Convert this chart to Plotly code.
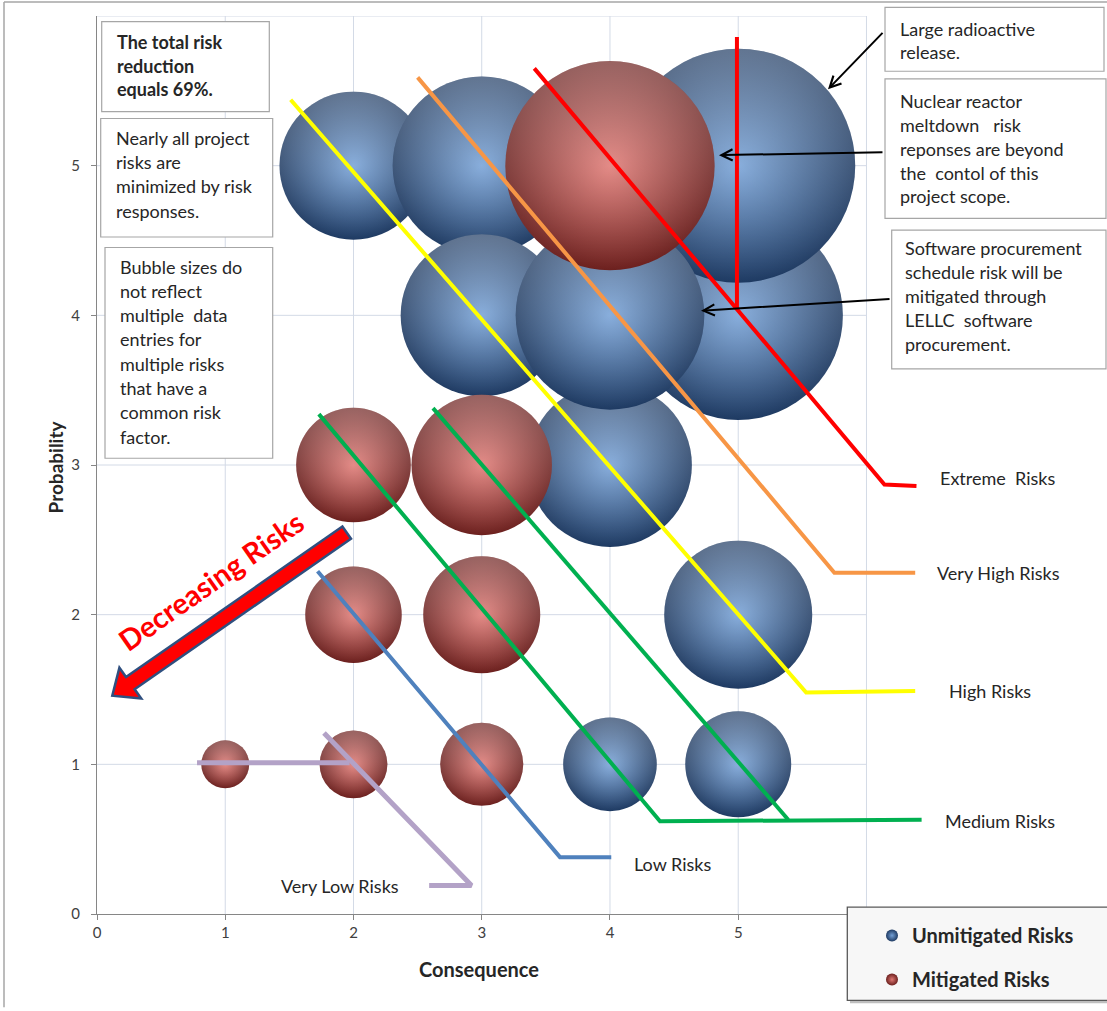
import math
import plotly.graph_objects as go

# ---------------------------------------------------------------------------
# Page geometry (pixels) and helpers to place decorations in paper units
# ---------------------------------------------------------------------------
W, H = 1107, 1011
ML, MR, MT, MB = 97, 170, 16, 90
PW, PH = W - ML - MR, H - MT - MB


def px(x):
    return (x - ML) / PW


def py(y):
    return (H - MB - y) / PH


FONT = "Lato, 'Open Sans', sans-serif"
TEXT = "#262626"

# ---------------------------------------------------------------------------
# Data: risk bubbles (consequence, probability, bubble value)
# ---------------------------------------------------------------------------
unmit_consequence = [5, 5, 2, 3, 3, 4, 4, 5, 4, 5]
unmit_probability = [4, 5, 5, 5, 4, 3, 4, 2, 1, 1]
unmit_bubble = [80, 100, 40, 58, 48, 49, 65, 40, 16, 20.5]

mit_consequence = [4, 2, 3, 2, 3, 1, 2, 3]
mit_probability = [5, 3, 3, 2, 2, 1, 1, 1]
mit_bubble = [80, 24, 36, 17, 25, 4.2, 8.4, 12.6]

# Risk zone boundary lines (None splits separate strokes)
extreme_x = [3.41, 6.14, 6.39, None, 4.99, 4.99]
extreme_y = [5.65, 2.87, 2.86, None, 5.86, 4.04]
very_high_x = [2.50, 5.75, 6.38]
very_high_y = [5.59, 2.28, 2.28]
high_x = [1.51, 5.53, 6.38]
high_y = [5.44, 1.48, 1.49]
medium_x = [1.73, 4.39, 6.43, None, 2.62, 5.39]
medium_y = [3.34, 0.62, 0.63, None, 3.38, 0.63]
low_x = [1.72, 3.61, 4.01]
low_y = [2.29, 0.38, 0.38]
very_low_x = [0.78, 1.97, None, 1.77, 2.92, 2.59]
very_low_y = [1.01, 1.01, None, 1.21, 0.19, 0.19]

zone_labels = ["Extreme  Risks", "Very High Risks", "High Risks",
               "Medium Risks", "Low Risks", "Very Low Risks"]

x_ticks = [0, 1, 2, 3, 4, 5]
y_ticks = [0, 1, 2, 3, 4, 5]
grid_vals = [1, 2, 3, 4, 5, 6]

fig = go.Figure()

MAX_DIAMETER = 234
SIZEREF = 2.0 * max(unmit_bubble + mit_bubble) / MAX_DIAMETER ** 2


def add_bubbles(xs, ys, vals, edge, centre, name, group):
    for i, (x, y, v) in enumerate(zip(xs, ys, vals)):
        # sphere body: light centre fading to a dark rim
        fig.add_trace(go.Scatter(
            x=[x], y=[y], mode="markers", name=name, legendgroup=group,
            showlegend=(i == 0), hoverinfo="skip",
            marker=dict(size=[v], sizemode="area", sizeref=SIZEREF, opacity=1,
                        color=edge, line=dict(width=0),
                        gradient=dict(type="radial", color=centre))))
        # soft top light
        fig.add_trace(go.Scatter(
            x=[x], y=[y], mode="markers", showlegend=False, hoverinfo="skip",
            legendgroup=group,
            marker=dict(size=[v], sizemode="area", sizeref=SIZEREF, opacity=1,
                        color="rgba(255,255,255,0.30)", line=dict(width=0),
                        gradient=dict(type="vertical", color="rgba(255,255,255,0)"))))


add_bubbles(unmit_consequence, unmit_probability, unmit_bubble,
            "#1e3a62", "#74a0d6", "Unmitigated Risks", "unmit")
add_bubbles(mit_consequence, mit_probability, mit_bubble,
            "#6c201e", "#df7772", "Mitigated Risks", "mit")

zones = [
    (extreme_x, extreme_y, "#ff0000", 4),
    (very_high_x, very_high_y, "#f79646", 4),
    (high_x, high_y, "#ffff00", 4),
    (medium_x, medium_y, "#00b050", 4),
    (low_x, low_y, "#4f81bd", 4),
    (very_low_x, very_low_y, "#b3a2c7", 5),
]
for zx, zy, col, wd in zones:
    fig.add_trace(go.Scatter(x=zx, y=zy, mode="lines", showlegend=False,
                             hoverinfo="skip", connectgaps=False,
                             line=dict(color=col, width=wd)))

shapes = []
annotations = []

# gridlines limited to the 0..6 plotting grid
GRID = "#d3dae6"
for g in grid_vals:
    shapes.append(dict(type="line", xref="x", yref="y", x0=g, x1=g, y0=0, y1=6,
                       line=dict(color=GRID, width=1), layer="below"))
    shapes.append(dict(type="line", xref="x", yref="y", x0=0, x1=6, y0=g, y1=g,
                       line=dict(color=GRID, width=1), layer="below"))

# outer chart frame (top and left edges visible)
shapes.append(dict(type="line", xref="paper", yref="paper", x0=px(4), x1=px(1110),
                   y0=py(2), y1=py(2), line=dict(color="#a6a6a6", width=1.5)))
shapes.append(dict(type="line", xref="paper", yref="paper", x0=px(4), x1=px(4),
                   y0=py(2), y1=py(1015), line=dict(color="#a6a6a6", width=1.5)))

# text boxes: (left, top, right, bottom, text x, [(line, y)], bold)
boxes = [
    (101.7, 21.7, 269.3, 112.3, 115,
     [("The total risk", 42), ("reduction", 66), ("equals 69%.", 90)], True),
    (100.7, 119.3, 272.7, 238.7, 114,
     [("Nearly all project", 139), ("risks are", 163.3),
      ("minimized by risk", 187.7), ("responses.", 212.3)], False),
    (105, 249.3, 272.7, 461.7, 118,
     [("Bubble sizes do", 268.7), ("not reflect", 293), ("multiple  data", 317.3),
      ("entries for", 341.7), ("multiple risks", 366.3), ("that have a", 390.7),
      ("common risk", 415), ("factor.", 440)], False),
    (885, 7.3, 1104, 71.7, 898,
     [("Large radioactive", 29.3), ("release.", 52.7)], False),
    (885, 79.3, 1106, 220, 898,
     [("Nuclear reactor", 101.7), ("meltdown   risk", 126),
      ("reponses are beyond", 150), ("the  contol of this", 174),
      ("project scope.", 197.7)], False),
    (891.7, 231.7, 1106, 371.7, 903,
     [("Software procurement", 250), ("schedule risk will be", 274),
      ("mitigated through", 298.3), ("LELLC  software", 322.3),
      ("procurement.", 346.7)], False),
]
for left, top, right, bottom, tx, lines, bold in boxes:
    shapes.append(dict(type="rect", xref="paper", yref="paper",
                       x0=px(left), x1=px(right), y0=py(bottom), y1=py(top),
                       line=dict(color="#a6a6a6", width=1.2), fillcolor="white",
                       layer="above"))
    for txt, ly in lines:
        annotations.append(dict(xref="paper", yref="paper", x=px(tx), y=py(ly),
                                xanchor="left", yanchor="middle", showarrow=False,
                                text=txt, font=dict(family=FONT, size=18, color=TEXT,
                                                    weight="bold" if bold else "normal")))

# zone labels
zone_label_pos = [(938, 482), (935, 577), (947, 696), (943, 827), (632, 871), (279, 893)]
for lab, (lx, ly) in zip(zone_labels, zone_label_pos):
    annotations.append(dict(xref="paper", yref="paper", x=px(lx), y=py(ly),
                            xanchor="left", yanchor="middle", showarrow=False, text=lab,
                            font=dict(family=FONT, size=18, color=TEXT)))

# callout arrows pointing at bubbles
callouts = [(5.70, 5.51, 56, -58), (4.85, 5.07, 165, -3), (4.71, 4.03, 190, -12)]
for hx, hy, ax, ay in callouts:
    annotations.append(dict(xref="x", yref="y", x=hx, y=hy, ax=ax, ay=ay, text="",
                            showarrow=True, arrowhead=5, arrowsize=1.1, arrowwidth=2,
                            arrowcolor="black"))

# "Decreasing Risks" block arrow
tail = (346.7, 536.7)
tip = (112.3, 701.0)
dx, dy = tip[0] - tail[0], tip[1] - tail[1]
L = math.hypot(dx, dy)
ux, uy = dx / L, dy / L
nx, ny = -uy, ux
shaft_w, head_w, head_len = 7.5, 19, 22
bx, by = tip[0] - head_len * ux, tip[1] - head_len * uy
pts = [
    (tail[0] + shaft_w * nx, tail[1] + shaft_w * ny),
    (bx + shaft_w * nx, by + shaft_w * ny),
    (bx + head_w * nx, by + head_w * ny),
    tip,
    (bx - head_w * nx, by - head_w * ny),
    (bx - shaft_w * nx, by - shaft_w * ny),
    (tail[0] - shaft_w * nx, tail[1] - shaft_w * ny),
]
path = "M " + " L ".join(f"{px(a):.5f},{py(b):.5f}" for a, b in pts) + " Z"
shapes.append(dict(type="path", xref="paper", yref="paper", path=path,
                   fillcolor="#ff0000", line=dict(color="#2f4f7f", width=2.5),
                   layer="above"))
annotations.append(dict(xref="paper", yref="paper", x=px(211), y=py(585), text="Decreasing Risks",
                        showarrow=False, textangle=-35, xanchor="center", yanchor="middle",
                        font=dict(family=FONT, size=29, color="#ff0000", weight="bold")))

# legend frame with a soft shadow
shapes.append(dict(type="rect", xref="paper", yref="paper", x0=px(850), x1=px(1112),
                   y0=py(1011), y1=py(917), line=dict(width=0), fillcolor="#bfbfbf",
                   layer="above"))
shapes.append(dict(type="rect", xref="paper", yref="paper", x0=px(847.3), x1=px(1110),
                   y0=py(1008), y1=py(914), line=dict(color="#595959", width=1.3),
                   fillcolor="#f7f7f7", layer="above"))

# axis titles
annotations.append(dict(xref="paper", yref="paper", x=px(479), y=py(976), text="Consequence",
                        showarrow=False, xanchor="center", yanchor="middle",
                        font=dict(family=FONT, size=20, color=TEXT, weight="bold")))
annotations.append(dict(xref="paper", yref="paper", x=px(55), y=py(471), text="Probability",
                        showarrow=False, textangle=-90, xanchor="center", yanchor="middle",
                        font=dict(family=FONT, size=19, color=TEXT, weight="bold")))

fig.update_layout(
    width=W, height=H,
    margin=dict(l=ML, r=MR, t=MT, b=MB, pad=0),
    paper_bgcolor="white", plot_bgcolor="white",
    showlegend=True,
    legend=dict(x=px(872), y=py(923), xanchor="left", yanchor="top",
                bgcolor="rgba(0,0,0,0)", borderwidth=0, traceorder="grouped",
                tracegroupgap=15, itemsizing="constant",
                font=dict(family=FONT, size=20, color=TEXT, weight="bold")),
    xaxis=dict(range=[0, 6.55], tickvals=x_ticks, ticktext=[str(v) for v in x_ticks],
               showgrid=False, zeroline=False, showline=True, linecolor="#868686",
               linewidth=1.2, ticks="outside", ticklen=5, tickcolor="#868686",
               tickfont=dict(family=FONT, size=15, color="#404040")),
    yaxis=dict(range=[0, 6], tickvals=y_ticks, ticktext=[str(v) for v in y_ticks],
               showgrid=False, zeroline=False, showline=True, linecolor="#868686",
               linewidth=1.2, ticks="outside", ticklen=5, tickcolor="#868686",
               ticklabelstandoff=8,
               tickfont=dict(family=FONT, size=15, color="#404040")),
    shapes=shapes,
    annotations=annotations,
)

fig.write_html("out.html")
